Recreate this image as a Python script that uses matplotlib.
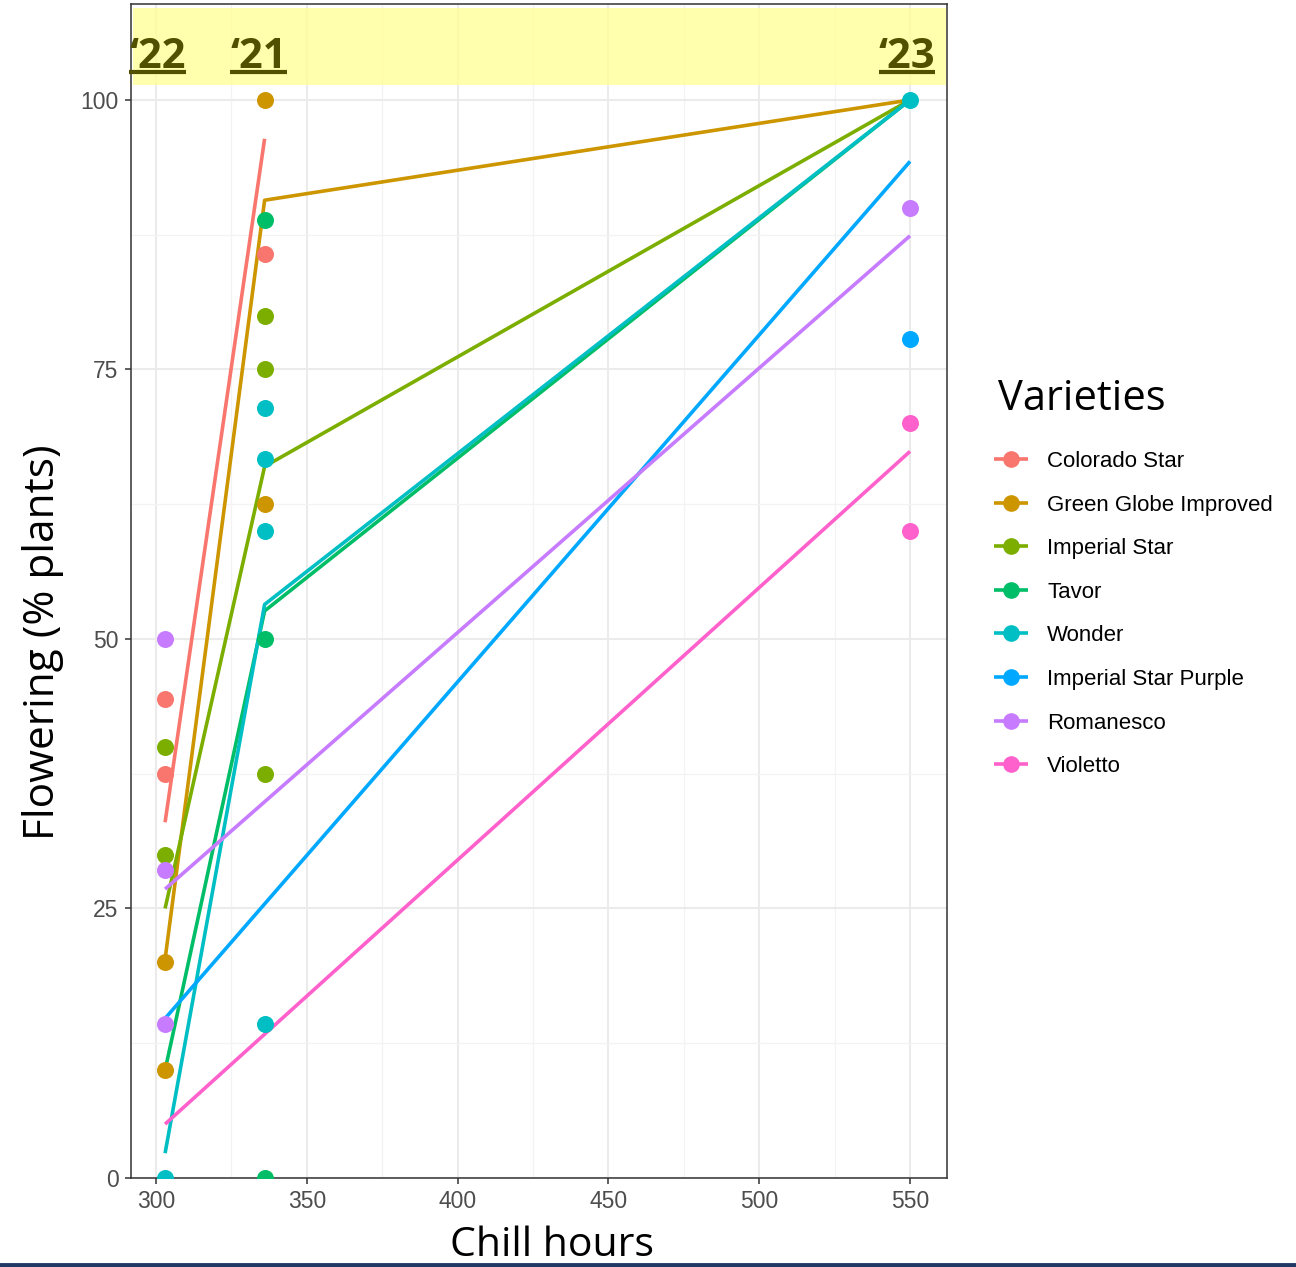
import matplotlib.pyplot as plt
from matplotlib.lines import Line2D

# varieties and colours (ggplot hue palette)
varieties = ['Colorado Star', 'Green Globe Improved', 'Imperial Star', 'Tavor',
             'Wonder', 'Imperial Star Purple', 'Romanesco', 'Violetto']
colors = ['#F8766D', '#CD9600', '#7CAE00', '#00BE67',
          '#00BFC4', '#00A9FF', '#C77CFF', '#FF61CC']

# observed points (variety index, chill hours, % flowering)
pt_var = [0, 0, 1, 1, 2, 2, 4, 6, 6, 6,
          0, 1, 1, 2, 2, 2, 3, 3, 3, 4, 4, 4, 4,
          4, 5, 6, 7, 7]
pt_x = [303, 303, 303, 303, 303, 303, 303, 303, 303, 303,
        336, 336, 336, 336, 336, 336, 336, 336, 336, 336, 336, 336, 336,
        550, 550, 550, 550, 550]
pt_y = [44.4, 37.5, 20, 10, 40, 30, 0, 50, 28.6, 14.3,
        85.7, 100, 62.5, 80, 75, 37.5, 88.9, 50, 0, 71.4, 66.7, 60, 14.3,
        100, 77.8, 90, 70, 60]

# trend lines per variety
line_x = [[303, 336], [303, 336, 550], [303, 336, 550], [303, 336, 550],
          [303, 336, 550], [303, 550], [303, 550], [303, 550]]
line_y = [[33.0, 96.4], [20.3, 90.7, 100], [25.0, 66.0, 100], [10.0, 52.6, 100],
          [2.3, 53.2, 100], [14.8, 94.3], [26.8, 87.4], [5.0, 67.4]]

# season labels on top
year_labels = ['\u201822', '\u201821', '\u201823']
year_x = [300.5, 334.0, 549.0]

W, H = 1296, 1267
fig = plt.figure(figsize=(W / 100, H / 100), dpi=100)
ax = fig.add_axes([131 / W, 89 / H, 816 / W, 1174 / H])

ax.set_xlim(291.7, 562.25)
ax.set_ylim(0, 108.9)
ax.set_xticks([300, 350, 400, 450, 500, 550])
ax.set_xticks([325, 375, 425, 475, 525], minor=True)
ax.set_yticks([0, 25, 50, 75, 100])
ax.set_yticks([12.5, 37.5, 62.5, 87.5], minor=True)
ax.grid(which='major', color='#EBEBEB', linewidth=1.5, zorder=0)
ax.grid(which='minor', color='#F3F3F3', linewidth=0.9, zorder=0)
ax.set_axisbelow(True)
ax.tick_params(which='major', length=4, width=1.1, color='#333333',
               labelsize=16.5, labelcolor='#4D4D4D', pad=5)
ax.tick_params(which='minor', length=0)
for lab in ax.get_xticklabels() + ax.get_yticklabels():
    lab.set_family('Liberation Sans')
for s in ax.spines.values():
    s.set_color('#333333')
    s.set_linewidth(1.1)

# yellow band
ax.axhspan(101.4, 108.5, xmin=0.003, xmax=0.999, color='#FFFF99', alpha=0.8,
           linewidth=0, zorder=1)

for i in range(len(varieties)):
    ax.plot(line_x[i], line_y[i], color=colors[i], linewidth=2.6,
            solid_capstyle='butt', zorder=2 + i * 0.01)

for v, x, y in zip(pt_var, pt_x, pt_y):
    ax.scatter(x, y, s=150, color=colors[v], linewidths=0, zorder=3)

# year labels with underline
fig.canvas.draw()
renderer = fig.canvas.get_renderer()
for lab, x in zip(year_labels, year_x):
    t = ax.text(x, 103.0, lab, ha='center', va='baseline', fontsize=30,
                fontweight='bold', family='Open Sans', color='#505000',
                clip_on=False, zorder=5)
    bb = t.get_window_extent(renderer=renderer)
    x0 = ax.transData.inverted().transform((bb.x0, 0))[0]
    x1 = ax.transData.inverted().transform((bb.x1, 0))[0]
    ax.plot([x0, x1], [102.55, 102.55], color='#505000', linewidth=3,
            solid_capstyle='butt', clip_on=False, zorder=5)

# axis titles
fig.text(43 / W, 1 - 642 / H, 'Flowering (% plants)', rotation=90,
         ha='center', va='center', fontsize=30.5, family='Open Sans')
fig.text(552 / W, 1 - 1246 / H, 'Chill hours', ha='center', va='center',
         fontsize=29.5, family='Open Sans')

# legend
fig.text(998 / W, 1 - 399 / H, 'Varieties', ha='left', va='center',
         fontsize=30, family='Open Sans')
for i, name in enumerate(varieties):
    yy = 1 - (459 + 43.6 * i) / H
    fig.add_artist(Line2D([994 / W, 1028 / W], [yy, yy], color=colors[i],
                          linewidth=2.6, solid_capstyle='butt'))
    fig.add_artist(Line2D([1011 / W], [yy], marker='o', markersize=12,
                          color=colors[i], markeredgewidth=0, linestyle='none'))
    fig.text(1047 / W, yy - 2.5 / H, name, ha='left', va='center', fontsize=16,
             family='Liberation Sans')

# slide bottom rule
fig.add_artist(Line2D([0, 1], [2.5 / H, 2.5 / H], color='#203864', linewidth=3.5))

fig.savefig('out.png', dpi=100)
